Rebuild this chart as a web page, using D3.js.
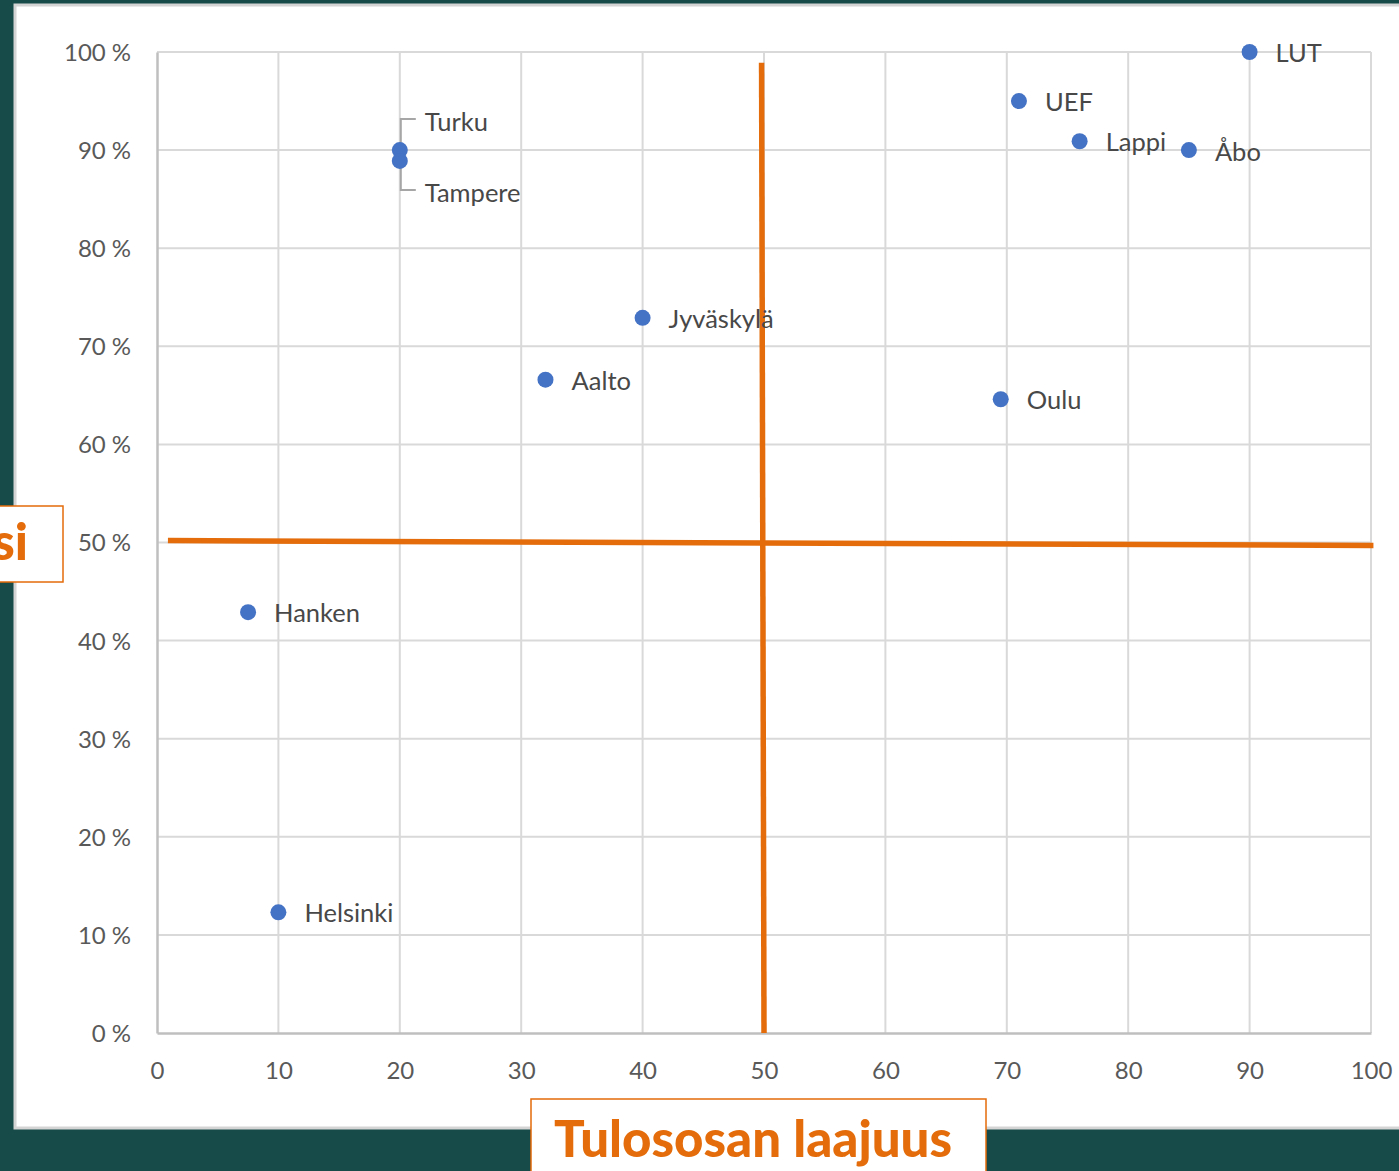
<!DOCTYPE html>
<html>
<head>
<meta charset="utf-8">
<script src="https://cdn.jsdelivr.net/npm/d3@7"></script>
<style>
	html, body { margin: 0; padding: 0; background: #174b49; overflow: hidden; }
	svg { display: block; }
</style>
</head>
<body>
<script>
// universities: x = tulososan laajuus, y = share (%)
const names = ['LUT', 'UEF', 'Lappi', 'Åbo', 'Turku', 'Tampere', 'Jyväskylä', 'Aalto', 'Oulu', 'Hanken', 'Helsinki'];
const xValues = [90, 71, 76, 85, 20, 20, 40, 32, 69.5, 7.5, 10];
const yValues = [100, 95, 90.9, 90, 90, 88.9, 72.9, 66.6, 64.6, 42.9, 12.3];

const xTicks = [0, 10, 20, 30, 40, 50, 60, 70, 80, 90, 100];
const yTicks = [0, 10, 20, 30, 40, 50, 60, 70, 80, 90, 100];

// hand-drawn orange quadrant lines, in data units
const quadLines = [
	{ x1: 49.8, y1: 98.9, x2: 50, y2: 0 },
	{ x1: 0.9, y1: 50.2, x2: 100.2, y2: 49.7 }
];

const xTitle = 'Tulososan laajuus';
const yTitle = 'si';

const width = 1399, height = 1171;

let svg = d3.select('body').append('svg')
	.attr('width', width)
	.attr('height', height);

// white panel
svg.append('rect')
	.attr('x', 15).attr('y', 5)
	.attr('width', width).attr('height', 1123)
	.attr('fill', '#ffffff')
	.attr('stroke', '#d4d4d4')
	.attr('stroke-width', 3);

let x = d3.scaleLinear().domain([0, 100]).range([157, 1371]);
let y = d3.scaleLinear().domain([0, 100]).range([1033, 52]);

// grid
let grid = svg.append('g');
grid.selectAll('.vg').data(xTicks.slice(1)).enter().append('line')
	.attr('x1', d => x(d)).attr('x2', d => x(d))
	.attr('y1', y(0)).attr('y2', y(100))
	.attr('stroke', '#d9d9d9').attr('stroke-width', 2);
grid.selectAll('.hg').data(yTicks.slice(1)).enter().append('line')
	.attr('x1', x(0)).attr('x2', x(100))
	.attr('y1', d => y(d)).attr('y2', d => y(d))
	.attr('stroke', '#d9d9d9').attr('stroke-width', 2);

// axes
let xAxis = svg.append('g')
	.attr('transform', `translate(0,${y(0)})`)
	.call(d3.axisBottom(x).tickValues(xTicks).tickSize(0).tickPadding(29).tickFormat(d3.format('d')));
let yAxis = svg.append('g')
	.attr('transform', `translate(${x(0)},0)`)
	.call(d3.axisLeft(y).tickValues(yTicks).tickSize(0).tickPadding(26).tickFormat(d => d + '\u202f%'));

[xAxis, yAxis].forEach(a => {
	a.select('.domain').attr('stroke', '#bfbfbf').attr('stroke-width', 2.5);
	a.selectAll('text')
		.attr('fill', '#595959')
		.style('font-family', 'Lato, "Open Sans", sans-serif')
		.style('font-size', '24px');
});
yAxis.selectAll('text').attr('dy', '0.35em');

// orange quadrant lines
svg.append('g').selectAll('line').data(quadLines).enter().append('line')
	.attr('x1', d => x(d.x1)).attr('y1', d => y(d.y1))
	.attr('x2', d => x(d.x2)).attr('y2', d => y(d.y2))
	.attr('stroke', '#e46c0a').attr('stroke-width', 5.5);

let points = names.map((n, i) => ({ name: n, x: xValues[i], y: yValues[i] }));

// leader lines for Turku & Tampere
let leaders = { 'Turku': -31, 'Tampere': 29 };
svg.append('g').selectAll('path')
	.data(points.filter(d => d.name in leaders)).enter().append('path')
	.attr('d', d => {
		let px = x(d.x) + 1, py = y(d.y);
		let ty = py + leaders[d.name];
		return `M${px},${py}V${ty}H${px + 15}`;
	})
	.attr('fill', 'none')
	.attr('stroke', '#a6a6a6')
	.attr('stroke-width', 2);

// markers
svg.append('g').selectAll('circle').data(points).enter().append('circle')
	.attr('cx', d => x(d.x))
	.attr('cy', d => y(d.y))
	.attr('r', 8)
	.attr('fill', '#4472c4');

// point labels
svg.append('g').selectAll('text').data(points).enter().append('text')
	.attr('x', d => d.name in leaders ? x(d.x) + 25 : x(d.x) + 26)
	.attr('y', d => d.name in leaders ? y(d.y) + leaders[d.name] + 3 : y(d.y) + (d.name === 'Åbo' ? 2 : 1))
	.attr('dy', '0.35em')
	.attr('fill', '#484848')
	.style('font-family', 'Lato, "Open Sans", sans-serif')
	.style('font-size', '25.5px')
	.text(d => d.name);

// orange title boxes
function titleBox(bx, by, bw, bh, text, tx, ty, anchor) {
	svg.append('rect')
		.attr('x', bx).attr('y', by)
		.attr('width', bw).attr('height', bh)
		.attr('fill', '#ffffff')
		.attr('stroke', '#e46c0a')
		.attr('stroke-width', 1.5);
	svg.append('text')
		.attr('x', tx).attr('y', ty)
		.attr('text-anchor', anchor)
		.attr('fill', '#e46c0a')
		.style('font-family', 'Lato, "Open Sans", sans-serif')
		.style('font-weight', '900')
		.style('font-size', '51px')
		.text(text);
}
titleBox(531, 1099, 455, 100, xTitle, 753, 1157, 'middle');
titleBox(-10, 506, 73, 76, yTitle, 28, 560, 'end');
</script>
</body>
</html>
